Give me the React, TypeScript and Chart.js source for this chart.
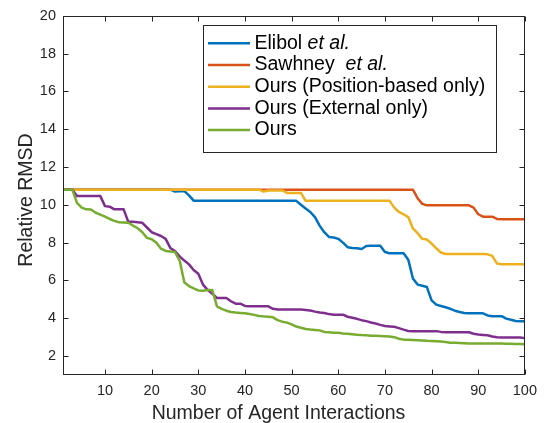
import React, { useEffect, useRef } from "react";
import { Chart, registerables } from "chart.js";

Chart.register(...registerables);

// x positions: agent interaction number 1..100
const ITERATIONS = Array.from({ length: 100 }, (_, i) => i + 1);

const ELIBOL = [
  10.8, 10.8, 10.8, 10.8, 10.8, 10.8, 10.8, 10.8, 10.8, 10.8,
  10.8, 10.8, 10.8, 10.8, 10.8, 10.8, 10.8, 10.8, 10.8, 10.8,
  10.8, 10.8, 10.8, 10.8, 10.7, 10.72, 10.72, 10.5, 10.22, 10.21,
  10.21, 10.21, 10.21, 10.21, 10.21, 10.21, 10.21, 10.21, 10.21, 10.21,
  10.21, 10.21, 10.21, 10.21, 10.21, 10.21, 10.21, 10.21, 10.21, 10.21,
  10.21, 10.0, 9.8, 9.62, 9.35, 8.9, 8.55, 8.3, 8.27, 8.2,
  8.0, 7.76, 7.72, 7.7, 7.66, 7.82, 7.83, 7.83, 7.83, 7.5,
  7.44, 7.44, 7.44, 7.44, 7.1, 6.1, 5.78, 5.72, 5.65, 4.95,
  4.72, 4.65, 4.58, 4.5, 4.4, 4.33, 4.28, 4.26, 4.26, 4.26,
  4.26, 4.15, 4.11, 4.11, 4.11, 3.98, 3.92, 3.86, 3.84, 3.84,
];

const SAWHNEY = [
  10.8, 10.8, 10.8, 10.8, 10.8, 10.8, 10.8, 10.8, 10.8, 10.8,
  10.8, 10.8, 10.8, 10.8, 10.8, 10.8, 10.8, 10.8, 10.8, 10.8,
  10.8, 10.8, 10.8, 10.8, 10.8, 10.8, 10.8, 10.8, 10.8, 10.8,
  10.8, 10.8, 10.8, 10.8, 10.8, 10.8, 10.8, 10.8, 10.8, 10.8,
  10.8, 10.8, 10.8, 10.8, 10.8, 10.8, 10.8, 10.8, 10.8, 10.8,
  10.8, 10.8, 10.8, 10.8, 10.8, 10.8, 10.8, 10.8, 10.8, 10.8,
  10.8, 10.8, 10.8, 10.8, 10.8, 10.8, 10.8, 10.8, 10.8, 10.8,
  10.8, 10.8, 10.8, 10.8, 10.8, 10.8, 10.35, 10.05, 9.97, 9.97,
  9.97, 9.97, 9.97, 9.97, 9.97, 9.97, 9.97, 9.97, 9.85, 9.5,
  9.37, 9.37, 9.37, 9.25, 9.23, 9.23, 9.23, 9.23, 9.23, 9.23,
];

const POSITION_ONLY = [
  10.8, 10.8, 10.8, 10.8, 10.8, 10.8, 10.8, 10.8, 10.8, 10.8,
  10.8, 10.8, 10.8, 10.8, 10.8, 10.8, 10.8, 10.8, 10.8, 10.8,
  10.8, 10.8, 10.8, 10.8, 10.8, 10.8, 10.8, 10.8, 10.8, 10.8,
  10.8, 10.8, 10.8, 10.8, 10.8, 10.8, 10.8, 10.8, 10.8, 10.8,
  10.8, 10.8, 10.8, 10.7, 10.76, 10.76, 10.76, 10.76, 10.63, 10.63,
  10.63, 10.63, 10.21, 10.21, 10.21, 10.21, 10.21, 10.21, 10.21, 10.21,
  10.21, 10.21, 10.21, 10.21, 10.21, 10.21, 10.21, 10.21, 10.21, 10.21,
  10.21, 9.85, 9.62, 9.5, 9.35, 8.75, 8.5, 8.2, 8.16, 7.95,
  7.7, 7.48, 7.4, 7.4, 7.4, 7.4, 7.4, 7.4, 7.4, 7.4,
  7.4, 7.38, 7.3, 6.9, 6.86, 6.86, 6.86, 6.86, 6.86, 6.86,
];

const EXTERNAL_ONLY = [
  10.8, 10.8, 10.8, 10.46, 10.46, 10.46, 10.46, 10.46, 10.46, 9.93,
  9.9, 9.76, 9.76, 9.76, 9.1, 9.1, 9.08, 9.05, 8.8, 8.55,
  8.45, 8.35, 8.2, 7.72, 7.55, 7.27, 7.05, 6.85, 6.55, 6.35,
  5.78, 5.5, 5.3, 5.07, 5.07, 5.07, 4.9, 4.77, 4.77, 4.65,
  4.63, 4.63, 4.63, 4.63, 4.63, 4.5, 4.46, 4.46, 4.46, 4.46,
  4.46, 4.46, 4.44, 4.41, 4.35, 4.3, 4.28, 4.22, 4.19, 4.19,
  4.19, 4.08, 4.03, 3.97, 3.9, 3.85, 3.78, 3.72, 3.65, 3.59,
  3.57, 3.55, 3.48, 3.4, 3.33, 3.32, 3.32, 3.32, 3.32, 3.32,
  3.32, 3.28, 3.26, 3.26, 3.26, 3.26, 3.26, 3.26, 3.18, 3.14,
  3.12, 3.1, 3.04, 3.0, 2.98, 2.98, 2.98, 2.98, 2.98, 2.95,
];

const OURS = [
  10.8, 10.8, 10.8, 10.1, 9.85, 9.76, 9.75, 9.58, 9.48, 9.37,
  9.25, 9.15, 9.08, 9.07, 9.05, 8.9, 8.76, 8.55, 8.25, 8.18,
  8.0, 7.68, 7.56, 7.53, 7.5, 7.05, 5.9, 5.7, 5.58, 5.47,
  5.46, 5.5, 5.5, 4.63, 4.5, 4.4, 4.33, 4.3, 4.28, 4.26,
  4.22, 4.18, 4.12, 4.1, 4.08, 4.05, 3.9, 3.82, 3.77, 3.68,
  3.56, 3.5, 3.43, 3.4, 3.38, 3.36, 3.28, 3.26, 3.24, 3.23,
  3.2, 3.18, 3.16, 3.13, 3.11, 3.1, 3.08, 3.07, 3.06, 3.05,
  3.03, 3.0, 2.92, 2.87, 2.86, 2.85, 2.84, 2.83, 2.81, 2.8,
  2.79, 2.77, 2.74, 2.71, 2.7, 2.69, 2.68, 2.67, 2.67, 2.67,
  2.67, 2.66, 2.66, 2.66, 2.66, 2.65, 2.65, 2.64, 2.64, 2.63,
];

const SERIES_LABELS = [
  "Elibol et al.",
  "Sawhney  et al.",
  "Ours (Position-based only)",
  "Ours (External only)",
  "Ours",
];
const SERIES_COLORS = ["#0072BD", "#D95319", "#EDB120", "#7E2F8E", "#77AC30"];
const SERIES_VALUES = [ELIBOL, SAWHNEY, POSITION_ONLY, EXTERNAL_ONLY, OURS];

const X_TICKS = [10, 20, 30, 40, 50, 60, 70, 80, 90, 100];
const Y_TICKS = [2, 4, 6, 8, 10, 12, 14, 16, 18, 20];
const X_TITLE = "Number of Agent Interactions";
const Y_TITLE = "Relative RMSD";

const FONT = "'Liberation Sans', Arial, Helvetica, sans-serif";
const AXIS_COLOR = "#262626";
const LINE_WIDTH = 2.5;

const framePlugin = {
  id: "matlabFrame",
  afterDatasetsDraw(chart: any) {
    const { ctx, chartArea: a, scales } = chart;
    ctx.save();
    ctx.strokeStyle = AXIS_COLOR;
    ctx.lineWidth = 1;
    const L = Math.round(a.left) + 0.5;
    const R = Math.round(a.right) - 0.5;
    const T = Math.round(a.top) + 0.5;
    const B = Math.round(a.bottom) - 0.5;
    ctx.strokeRect(L, T, R - L, B - T);
    const len = 5;
    ctx.beginPath();
    for (const v of X_TICKS) {
      const px = Math.round(scales.x.getPixelForValue(v)) + 0.5;
      ctx.moveTo(px, B);
      ctx.lineTo(px, B - len);
      ctx.moveTo(px, T);
      ctx.lineTo(px, T + len);
    }
    for (const v of Y_TICKS) {
      const py = Math.round(scales.y.getPixelForValue(v)) + 0.5;
      ctx.moveTo(L, py);
      ctx.lineTo(L + len, py);
      ctx.moveTo(R, py);
      ctx.lineTo(R - len, py);
    }
    ctx.stroke();
    ctx.restore();
  },
};

const titlesPlugin = {
  id: "axisTitles",
  afterDraw(chart: any) {
    const { ctx } = chart;
    ctx.save();
    ctx.fillStyle = AXIS_COLOR;
    ctx.font = `19.5px ${FONT}`;
    ctx.textAlign = "center";
    ctx.textBaseline = "alphabetic";
    ctx.fillText(X_TITLE, 278.5, 418.5);
    ctx.translate(32, 200);
    ctx.rotate(-Math.PI / 2);
    ctx.fillText(Y_TITLE, 0, 0);
    ctx.restore();
  },
};

const legendPlugin = {
  id: "matlabLegend",
  afterDraw(chart: any) {
    const { ctx } = chart;
    const box = { left: 203, top: 25, right: 497, bottom: 153 };
    ctx.save();
    ctx.fillStyle = "#ffffff";
    ctx.fillRect(box.left, box.top, box.right - box.left, box.bottom - box.top);
    ctx.strokeStyle = AXIS_COLOR;
    ctx.lineWidth = 1;
    ctx.strokeRect(box.left + 0.5, box.top + 0.5, box.right - box.left - 1, box.bottom - box.top - 1);
    const datasets = chart.data.datasets;
    const rowStart = 43.3;
    const rowStep = 21.7;
    datasets.forEach((ds: any, i: number) => {
      const y = rowStart + i * rowStep;
      ctx.strokeStyle = ds.borderColor;
      ctx.lineWidth = LINE_WIDTH;
      ctx.beginPath();
      ctx.moveTo(208, y);
      ctx.lineTo(250, y);
      ctx.stroke();
      ctx.fillStyle = "#000000";
      ctx.textBaseline = "middle";
      ctx.textAlign = "left";
      let x = 254.5;
      const parts = String(ds.label).split(/(et al\.)/);
      for (const p of parts) {
        if (!p) continue;
        ctx.font = p === "et al." ? `italic 19.5px ${FONT}` : `19.5px ${FONT}`;
        ctx.fillText(p, x, y);
        x += ctx.measureText(p).width;
      }
    });
    ctx.restore();
  },
};

export default function App() {
  const canvasRef = useRef<HTMLCanvasElement | null>(null);

  useEffect(() => {
    const canvas = canvasRef.current;
    if (!canvas) return;
    const n = SERIES_VALUES.length;
    const datasets = SERIES_VALUES.map((vals, i) => ({
      label: SERIES_LABELS[i],
      data: ITERATIONS.map((x, j) => ({ x, y: vals[j] })),
      borderColor: SERIES_COLORS[i],
      backgroundColor: SERIES_COLORS[i],
      borderWidth: LINE_WIDTH,
      borderJoinStyle: "round",
      pointRadius: 0,
      tension: 0,
      fill: false,
      order: n - i,
    }));

    const chart = new Chart(canvas, {
      type: "line",
      data: { datasets },
      options: {
        animation: false,
        responsive: false,
        maintainAspectRatio: false,
        devicePixelRatio: 1,
        layout: { padding: { left: 0, right: 14, top: 15, bottom: 0 } },
        plugins: { legend: { display: false }, tooltip: { enabled: false } },
        scales: {
          x: {
            type: "linear",
            min: 1,
            max: 100,
            afterBuildTicks: (s: any) => {
              s.ticks = X_TICKS.map((value) => ({ value }));
            },
            afterFit: (s: any) => {
              s.height = 48;
            },
            grid: { display: false, drawTicks: false },
            border: { display: false },
            ticks: {
              font: { family: FONT, size: 14.5 },
              color: AXIS_COLOR,
              padding: 7,
              maxRotation: 0,
              autoSkip: false,
            },
          },
          y: {
            type: "linear",
            min: 1,
            max: 20,
            afterBuildTicks: (s: any) => {
              s.ticks = Y_TICKS.map((value) => ({ value }));
            },
            afterFit: (s: any) => {
              s.width = 63;
            },
            grid: { display: false, drawTicks: false },
            border: { display: false },
            ticks: {
              font: { family: FONT, size: 14.5 },
              color: AXIS_COLOR,
              padding: 7,
              autoSkip: false,
            },
          },
        },
      } as any,
      plugins: [framePlugin, legendPlugin, titlesPlugin],
    });

    return () => chart.destroy();
  }, []);

  return (
    <div style={{ position: "absolute", left: 0, top: 0, width: 544, height: 423, background: "#ffffff", overflow: "hidden" }}>
      <canvas ref={canvasRef} width={544} height={423} style={{ display: "block", width: 544, height: 423 }} />
    </div>
  );
}
